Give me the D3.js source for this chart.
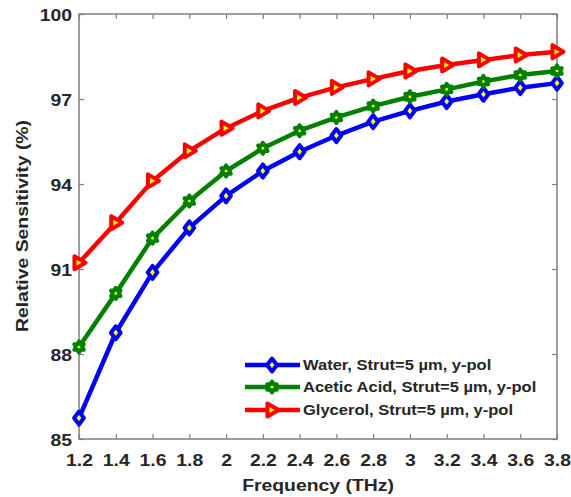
<!DOCTYPE html>
<html>
<head>
<meta charset="utf-8">
<script src="https://cdn.jsdelivr.net/npm/d3@7"></script>
<style>
  html, body { margin: 0; padding: 0; background: #fff; }
  svg { display: block; }
  text { font-family: "Liberation Sans", Arial, sans-serif; font-weight: bold; fill: #262626; }
</style>
</head>
<body>
<svg id="chart" width="571" height="497"></svg>
<script>
const frequencies = [1.2, 1.4, 1.6, 1.8, 2.0, 2.2, 2.4, 2.6, 2.8, 3.0, 3.2, 3.4, 3.6, 3.8];
const water   = [85.74, 88.75, 90.88, 92.45, 93.58, 94.46, 95.14, 95.71, 96.20, 96.58, 96.91, 97.17, 97.40, 97.56];
const acetic  = [88.25, 90.14, 92.09, 93.40, 94.46, 95.26, 95.88, 96.35, 96.75, 97.08, 97.34, 97.62, 97.85, 97.99];
const glycerol= [91.22, 92.63, 94.11, 95.17, 95.97, 96.58, 97.05, 97.41, 97.71, 97.99, 98.20, 98.38, 98.55, 98.67];
const xTicks = [1.2, 1.4, 1.6, 1.8, 2, 2.2, 2.4, 2.6, 2.8, 3, 3.2, 3.4, 3.6, 3.8];
const yTicks = [85, 88, 91, 94, 97, 100];
const seriesNames = ["Water, Strut=5 µm, y-pol", "Acetic Acid, Strut=5 µm, y-pol", "Glycerol, Strut=5 µm, y-pol"];
const seriesColors = ["#0000ff", "#008000", "#ff0000"];
const seriesMarkers = ["diamond", "hexagram", "triangleRight"];

const svg = d3.select("#chart");
const m = { left: 79, right: 557, top: 14, bottom: 439 };
const x = d3.scaleLinear().domain([1.2, 3.8]).range([m.left, m.right]);
const y = d3.scaleLinear().domain([85, 100]).range([m.bottom, m.top]);
const SX = 1.14;
const axisColor = "#7f7f7f";

// Box
svg.append("rect").attr("x", m.left).attr("y", m.top)
  .attr("width", m.right - m.left).attr("height", m.bottom - m.top)
  .attr("fill", "none").attr("stroke", axisColor).attr("stroke-width", 1.5);

// Axes with inward ticks
const tl = 5;
const gx = svg.append("g").attr("transform", `translate(0,${m.bottom})`)
  .call(d3.axisBottom(x).tickValues(xTicks).tickSize(-tl).tickPadding(0).tickFormat(d3.format("")));
const gxTop = svg.append("g").attr("transform", `translate(0,${m.top})`)
  .call(d3.axisTop(x).tickValues(xTicks).tickSize(-tl).tickFormat(""));
const gy = svg.append("g").attr("transform", `translate(${m.left},0)`)
  .call(d3.axisLeft(y).tickValues(yTicks).tickSize(-tl).tickFormat(d3.format("")));
const gyR = svg.append("g").attr("transform", `translate(${m.right},0)`)
  .call(d3.axisRight(y).tickValues(yTicks).tickSize(-tl).tickFormat(""));
[gx, gxTop, gy, gyR].forEach(g => {
  g.select(".domain").remove();
  g.selectAll(".tick line").attr("stroke", axisColor).attr("stroke-width", 1.2);
});
gx.selectAll(".tick text").each(function() {
  const t = d3.select(this);
  t.attr("y", null).attr("dy", null)
    .attr("transform", `translate(0,27) scale(${SX},1)`)
    .style("font-size", "17px").attr("fill", "#262626");
});
gy.selectAll(".tick text").each(function() {
  const t = d3.select(this);
  t.attr("x", null).attr("dy", null)
    .attr("transform", `translate(-7,6) scale(${SX},1)`)
    .style("font-size", "17px").attr("fill", "#262626");
});

// Axis labels
svg.append("text").attr("transform", `translate(318,491) scale(${SX},1)`)
  .attr("text-anchor", "middle").style("font-size", "17px").text("Frequency (THz)");
svg.append("text").attr("transform", `translate(28,226) rotate(-90) scale(${SX},1)`)
  .attr("text-anchor", "middle").style("font-size", "17px").text("Relative Sensitivity (%)");

// Marker paths
function markerPath(type) {
  if (type === "diamond") {
    const s = 6.5;
    return `M0,${-s}L${s*0.75},0L0,${s}L${-s*0.75},0Z`;
  }
  if (type === "hexagram") {
    const R = 5.5, r = 3.2;
    const pts = d3.range(12).map(i => {
      const a = -Math.PI/2 + i * Math.PI/6;
      const rad = i % 2 === 0 ? R : r;
      return [rad*Math.cos(a), rad*Math.sin(a)];
    });
    return "M" + pts.map(p => p.join(",")).join("L") + "Z";
  }
  // right triangle
  const s = 6.5;
  return `M${s},0L${-s*0.7},${-s}L${-s*0.7},${s}Z`;
}

const allSeries = [water, acetic, glycerol];
const line = d3.line().x((d, i) => x(frequencies[i])).y(d => y(d));
const plot = svg.append("g");
allSeries.forEach((vals, k) => {
  plot.append("path").datum(vals).attr("d", line)
    .attr("fill", "none").attr("stroke", seriesColors[k]).attr("stroke-width", 4.5)
    .attr("stroke-linejoin", "round");
  plot.selectAll(null).data(vals).enter().append("path")
    .attr("transform", (d, i) => `translate(${x(frequencies[i])},${y(d)})`)
    .attr("d", markerPath(seriesMarkers[k]))
    .attr("fill", "#ffff00").attr("stroke", seriesColors[k]).attr("stroke-width", 4)
    .attr("stroke-linejoin", "round");
});

// Legend
const legY = [365, 387, 410];
seriesNames.forEach((name, k) => {
  const g = svg.append("g").attr("transform", `translate(0,${legY[k]})`);
  g.append("line").attr("x1", 245).attr("x2", 300).attr("y1", 0).attr("y2", 0)
    .attr("stroke", seriesColors[k]).attr("stroke-width", 4.5);
  g.append("path").attr("transform", "translate(272,0)").attr("d", markerPath(seriesMarkers[k]))
    .attr("fill", "#ffff00").attr("stroke", seriesColors[k]).attr("stroke-width", 4)
    .attr("stroke-linejoin", "round");
  g.append("text").attr("transform", `translate(303,5) scale(${SX},1)`)
    .style("font-size", "14.5px").attr("fill", "#1a1a1a").text(name);
});
</script>
</body>
</html>
